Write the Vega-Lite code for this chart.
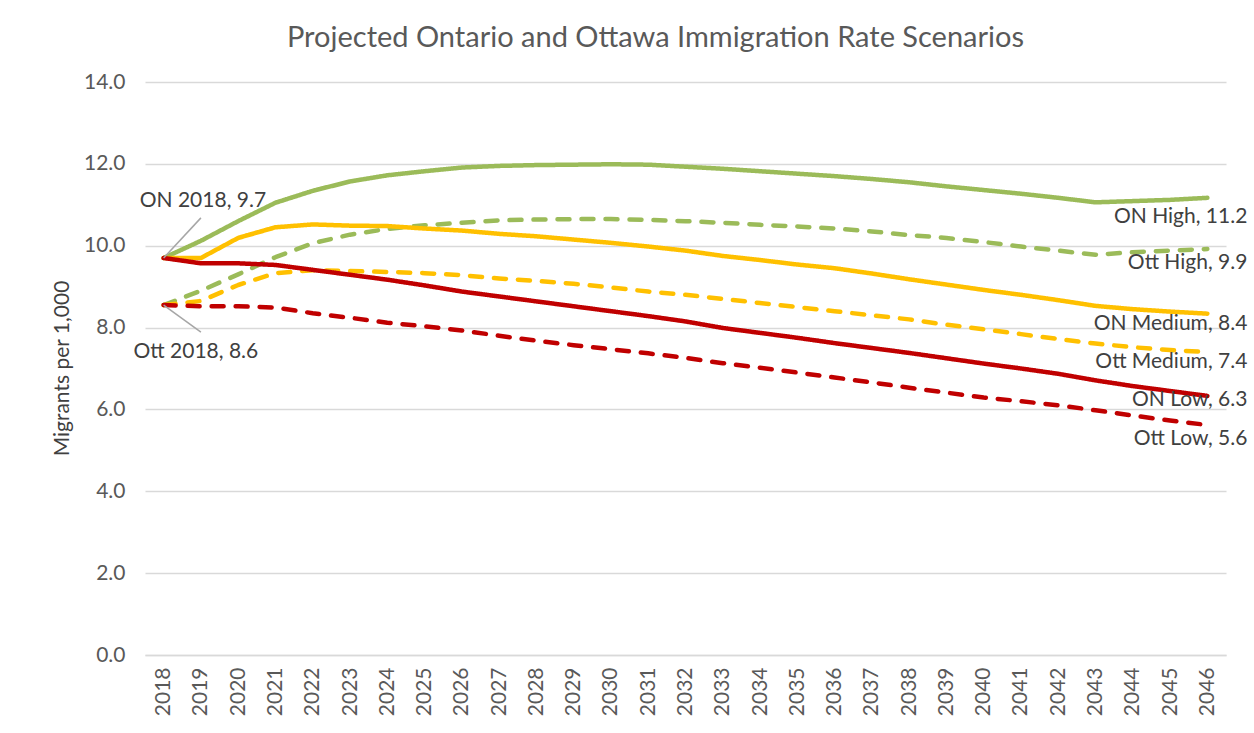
{
  "$schema": "https://vega.github.io/schema/vega-lite/v6.json",
  "width": 1081,
  "height": 573,
  "autosize": {"type": "none"},
  "padding": {"left": 145, "top": 82, "right": 28, "bottom": 78},
  "background": "white",
  "config": {
    "font": "Lato",
    "view": {"stroke": null}
  },
  "title": {
    "text": "Projected Ontario and Ottawa Immigration Rate Scenarios",
    "fontSize": 29,
    "font": "Lato",
    "fontWeight": "normal",
    "color": "#595959",
    "anchor": "middle",
    "dx": -30,
    "offset": 18
  },
  "datasets": {
    "series": [
      {"year": "2018", "ON High": 9.7, "Ott High": 8.55, "ON Medium": 9.7, "Ott Medium": 8.55, "ON Low": 9.7, "Ott Low": 8.55},
      {"year": "2019", "ON High": 10.12, "Ott High": 8.9, "ON Medium": 9.7, "Ott Medium": 8.65, "ON Low": 9.57, "Ott Low": 8.52},
      {"year": "2020", "ON High": 10.6, "Ott High": 9.3, "ON Medium": 10.19, "Ott Medium": 9.04, "ON Low": 9.57, "Ott Low": 8.52},
      {"year": "2021", "ON High": 11.05, "Ott High": 9.72, "ON Medium": 10.45, "Ott Medium": 9.33, "ON Low": 9.53, "Ott Low": 8.49},
      {"year": "2022", "ON High": 11.34, "Ott High": 10.06, "ON Medium": 10.52, "Ott Medium": 9.4, "ON Low": 9.41, "Ott Low": 8.35},
      {"year": "2023", "ON High": 11.57, "Ott High": 10.27, "ON Medium": 10.49, "Ott Medium": 9.38, "ON Low": 9.29, "Ott Low": 8.24},
      {"year": "2024", "ON High": 11.72, "Ott High": 10.41, "ON Medium": 10.48, "Ott Medium": 9.36, "ON Low": 9.17, "Ott Low": 8.12},
      {"year": "2025", "ON High": 11.82, "Ott High": 10.5, "ON Medium": 10.42, "Ott Medium": 9.33, "ON Low": 9.03, "Ott Low": 8.03},
      {"year": "2026", "ON High": 11.91, "Ott High": 10.56, "ON Medium": 10.37, "Ott Medium": 9.28, "ON Low": 8.88, "Ott Low": 7.93},
      {"year": "2027", "ON High": 11.95, "Ott High": 10.62, "ON Medium": 10.29, "Ott Medium": 9.2, "ON Low": 8.76, "Ott Low": 7.8},
      {"year": "2028", "ON High": 11.97, "Ott High": 10.64, "ON Medium": 10.23, "Ott Medium": 9.14, "ON Low": 8.64, "Ott Low": 7.68},
      {"year": "2029", "ON High": 11.98, "Ott High": 10.65, "ON Medium": 10.15, "Ott Medium": 9.07, "ON Low": 8.52, "Ott Low": 7.57},
      {"year": "2030", "ON High": 11.99, "Ott High": 10.65, "ON Medium": 10.07, "Ott Medium": 8.98, "ON Low": 8.4, "Ott Low": 7.47},
      {"year": "2031", "ON High": 11.98, "Ott High": 10.63, "ON Medium": 9.98, "Ott Medium": 8.88, "ON Low": 8.28, "Ott Low": 7.37},
      {"year": "2032", "ON High": 11.93, "Ott High": 10.6, "ON Medium": 9.88, "Ott Medium": 8.8, "ON Low": 8.15, "Ott Low": 7.26},
      {"year": "2033", "ON High": 11.88, "Ott High": 10.56, "ON Medium": 9.75, "Ott Medium": 8.7, "ON Low": 7.99, "Ott Low": 7.13},
      {"year": "2034", "ON High": 11.82, "Ott High": 10.51, "ON Medium": 9.65, "Ott Medium": 8.6, "ON Low": 7.87, "Ott Low": 7.02},
      {"year": "2035", "ON High": 11.76, "Ott High": 10.47, "ON Medium": 9.54, "Ott Medium": 8.5, "ON Low": 7.75, "Ott Low": 6.9},
      {"year": "2036", "ON High": 11.7, "Ott High": 10.42, "ON Medium": 9.45, "Ott Medium": 8.4, "ON Low": 7.62, "Ott Low": 6.78},
      {"year": "2037", "ON High": 11.63, "Ott High": 10.35, "ON Medium": 9.32, "Ott Medium": 8.3, "ON Low": 7.5, "Ott Low": 6.66},
      {"year": "2038", "ON High": 11.55, "Ott High": 10.26, "ON Medium": 9.18, "Ott Medium": 8.2, "ON Low": 7.38, "Ott Low": 6.53},
      {"year": "2039", "ON High": 11.45, "Ott High": 10.19, "ON Medium": 9.05, "Ott Medium": 8.07, "ON Low": 7.25, "Ott Low": 6.41},
      {"year": "2040", "ON High": 11.36, "Ott High": 10.09, "ON Medium": 8.92, "Ott Medium": 7.96, "ON Low": 7.12, "Ott Low": 6.29},
      {"year": "2041", "ON High": 11.27, "Ott High": 9.98, "ON Medium": 8.8, "Ott Medium": 7.84, "ON Low": 7.0, "Ott Low": 6.2},
      {"year": "2042", "ON High": 11.17, "Ott High": 9.88, "ON Medium": 8.67, "Ott Medium": 7.72, "ON Low": 6.87, "Ott Low": 6.1},
      {"year": "2043", "ON High": 11.06, "Ott High": 9.78, "ON Medium": 8.53, "Ott Medium": 7.61, "ON Low": 6.71, "Ott Low": 5.98},
      {"year": "2044", "ON High": 11.09, "Ott High": 9.84, "ON Medium": 8.45, "Ott Medium": 7.52, "ON Low": 6.57, "Ott Low": 5.85},
      {"year": "2045", "ON High": 11.12, "Ott High": 9.88, "ON Medium": 8.39, "Ott Medium": 7.45, "ON Low": 6.45, "Ott Low": 5.73},
      {"year": "2046", "ON High": 11.17, "Ott High": 9.92, "ON Medium": 8.34, "Ott Medium": 7.4, "ON Low": 6.33, "Ott Low": 5.62}
    ],
    "endlabels": [
      {"year": "2046", "series": "ON High", "value": 11.17, "label": "ON High, 11.2"},
      {"year": "2046", "series": "Ott High", "value": 9.92, "label": "Ott High, 9.9"},
      {"year": "2046", "series": "ON Medium", "value": 8.34, "label": "ON Medium, 8.4"},
      {"year": "2046", "series": "Ott Medium", "value": 7.4, "label": "Ott Medium, 7.4"},
      {"year": "2046", "series": "ON Low", "value": 6.33, "label": "ON Low, 6.3"},
      {"year": "2046", "series": "Ott Low", "value": 5.62, "label": "Ott Low, 5.6"}
    ],
    "callouts": [
      {"year": "2018", "value": 9.7, "year2": "2019", "value2": 10.68, "label": "ON 2018, 9.7", "pos": "above"},
      {"year": "2018", "value": 8.55, "year2": "2019", "value2": 7.89, "label": "Ott 2018, 8.6", "pos": "below"}
    ]
  },
  "layer": [
    {
      "data": {"name": "series"},
      "transform": [
        {"fold": ["ON High", "Ott High", "ON Medium", "Ott Medium", "ON Low", "Ott Low"], "as": ["series", "value"]}
      ],
      "mark": {"type": "line", "strokeWidth": 4.5, "strokeCap": "round", "strokeJoin": "round"},
      "encoding": {
        "x": {
          "field": "year", "type": "ordinal", "title": null,
          "scale": {"type": "point", "padding": 0.5},
          "axis": {
            "labelAngle": -90, "labelFontSize": 21, "labelColor": "#595959", "labelFont": "Lato",
            "labelPadding": 12, "ticks": false, "domain": true, "domainColor": "#d9d9d9", "domainWidth": 1.5,
            "grid": false
          }
        },
        "y": {
          "field": "value", "type": "quantitative",
          "title": "Migrants per 1,000",
          "scale": {"domain": [0, 14], "nice": false},
          "axis": {
            "values": [0, 2, 4, 6, 8, 10, 12, 14], "format": ".1f",
            "labelFontSize": 21, "labelColor": "#595959", "labelFont": "Lato", "labelPadding": 20,
            "ticks": false, "domain": false, "grid": true, "gridColor": "#d9d9d9", "gridWidth": 1.5,
            "titleFontSize": 21, "titleColor": "#404040", "titleFont": "Lato", "titleFontWeight": "normal",
            "titleX": -83, "titleY": 286, "titleAngle": -90, "titleBaseline": "middle", "titleAlign": "center"
          }
        },
        "color": {
          "field": "series", "type": "nominal", "legend": null,
          "scale": {
            "domain": ["ON High", "Ott High", "ON Medium", "Ott Medium", "ON Low", "Ott Low"],
            "range": ["#9BBB59", "#9BBB59", "#FFC000", "#FFC000", "#C00000", "#C00000"]
          }
        },
        "strokeDash": {
          "field": "series", "type": "nominal", "legend": null,
          "scale": {
            "domain": ["ON High", "Ott High", "ON Medium", "Ott Medium", "ON Low", "Ott Low"],
            "range": [[1, 0], [12, 12], [1, 0], [12, 12], [1, 0], [12, 12]]
          }
        },
        "order": {"field": "year", "type": "ordinal"}
      }
    },
    {
      "data": {"name": "callouts"},
      "mark": {"type": "rule", "color": "#a6a6a6", "strokeWidth": 1.5},
      "encoding": {
        "x": {"field": "year", "type": "ordinal"},
        "y": {"field": "value", "type": "quantitative"},
        "x2": {"field": "year2"},
        "y2": {"field": "value2"}
      }
    },
    {
      "data": {"name": "callouts"},
      "transform": [{"filter": "datum.pos === 'above'"}],
      "mark": {"type": "text", "fontSize": 21, "color": "#404040", "font": "Lato", "align": "center", "baseline": "alphabetic", "dx": 2, "dy": -11},
      "encoding": {
        "x": {"field": "year2", "type": "ordinal"},
        "y": {"field": "value2", "type": "quantitative"},
        "text": {"field": "label"}
      }
    },
    {
      "data": {"name": "callouts"},
      "transform": [{"filter": "datum.pos === 'below'"}],
      "mark": {"type": "text", "fontSize": 21, "color": "#404040", "font": "Lato", "align": "center", "baseline": "alphabetic", "dx": -5, "dy": 26},
      "encoding": {
        "x": {"field": "year2", "type": "ordinal"},
        "y": {"field": "value2", "type": "quantitative"},
        "text": {"field": "label"}
      }
    },
    {
      "data": {"name": "endlabels"},
      "transform": [{"filter": "datum.series === 'ON High'"}],
      "mark": {"type": "text", "fontSize": 21, "color": "#404040", "font": "Lato", "align": "right", "baseline": "middle", "dx": 40, "dy": 19},
      "encoding": {
        "x": {"field": "year", "type": "ordinal"},
        "y": {"field": "value", "type": "quantitative"},
        "text": {"field": "label"}
      }
    },
    {
      "data": {"name": "endlabels"},
      "transform": [{"filter": "datum.series === 'Ott High' || datum.series === 'Ott Low'"}],
      "mark": {"type": "text", "fontSize": 21, "color": "#404040", "font": "Lato", "align": "right", "baseline": "middle", "dx": 40, "dy": 14},
      "encoding": {
        "x": {"field": "year", "type": "ordinal"},
        "y": {"field": "value", "type": "quantitative"},
        "text": {"field": "label"}
      }
    },
    {
      "data": {"name": "endlabels"},
      "transform": [{"filter": "datum.series === 'ON Medium' || datum.series === 'Ott Medium'"}],
      "mark": {"type": "text", "fontSize": 21, "color": "#404040", "font": "Lato", "align": "right", "baseline": "middle", "dx": 40, "dy": 10},
      "encoding": {
        "x": {"field": "year", "type": "ordinal"},
        "y": {"field": "value", "type": "quantitative"},
        "text": {"field": "label"}
      }
    },
    {
      "data": {"name": "endlabels"},
      "transform": [{"filter": "datum.series === 'ON Low'"}],
      "mark": {"type": "text", "fontSize": 21, "color": "#404040", "font": "Lato", "align": "right", "baseline": "middle", "dx": 40, "dy": 4},
      "encoding": {
        "x": {"field": "year", "type": "ordinal"},
        "y": {"field": "value", "type": "quantitative"},
        "text": {"field": "label"}
      }
    }
  ]
}
